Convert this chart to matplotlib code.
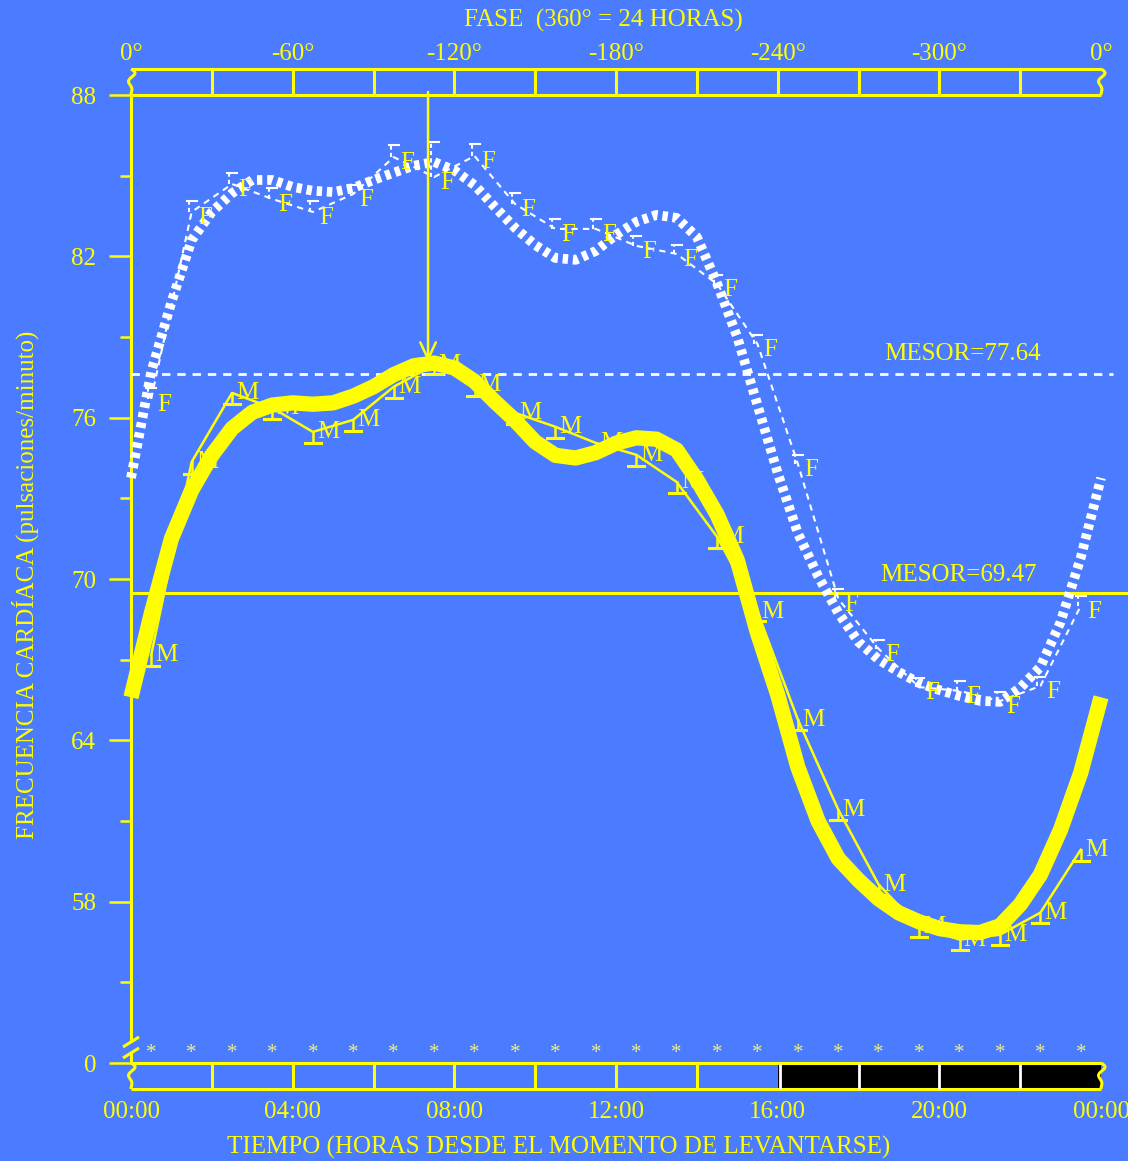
import matplotlib
matplotlib.use("Agg")
import matplotlib.pyplot as plt
from matplotlib import transforms
from matplotlib.patches import Rectangle
import numpy as np

plt.rcParams['font.family'] = ['Liberation Serif', 'DejaVu Serif']

BG = '#4b7bff'
YELLOW = '#ffff00'
PALE = '#eeee88'
WHITE = '#ffffff'

# ---- data -------------------------------------------------------------
# hourly sampling times (hours since waking)
hours = [0.5, 1.5, 2.5, 3.5, 4.5, 5.5, 6.5, 7.5, 8.5, 9.5, 10.5, 11.5,
         12.5, 13.5, 14.5, 15.5, 16.5, 17.5, 18.5, 19.5, 20.5, 21.5, 22.5, 23.5]

# group M: hourly means and (lower) error
m_rate = [67.18, 74.35, 76.92, 76.36, 75.47, 75.92, 77.15, 77.96, 77.22, 76.18,
          75.66, 75.06, 74.62, 73.61, 71.57, 68.78, 64.77, 61.42, 58.63, 57.07,
          56.59, 56.77, 57.59, 59.93]
m_err = [0.4, 0.45, 0.4, 0.4, 0.4, 0.4, 0.4, 0.35, 0.4, 0.4, 0.4, 0.4,
         0.4, 0.4, 0.4, 0.35, 0.4, 0.4, 0.4, 0.4, 0.4, 0.4, 0.4, 0.4]

# group F: hourly means and (upper) error
f_rate = [76.7, 83.65, 84.69, 84.13, 83.65, 84.32, 85.69, 84.95, 85.73, 83.95,
          83.02, 83.02, 82.39, 82.09, 80.97, 78.74, 74.28, 69.26, 67.4, 65.98,
          65.84, 65.46, 66.02, 69.0]
f_err = [0.4, 0.4, 0.4, 0.4, 0.4, 0.35, 0.45, 1.3, 0.45, 0.4, 0.35, 0.35,
         0.35, 0.35, 0.35, 0.35, 0.35, 0.35, 0.35, 0.35, 0.35, 0.35, 0.35, 0.35]

# fitted rhythms, sampled every half hour
fit_hours = [0.0, 0.5, 1.0, 1.5, 2.0, 2.5, 3.0, 3.5, 4.0, 4.5, 5.0, 5.5, 6.0,
             6.5, 7.0, 7.5, 8.0, 8.5, 9.0, 9.5, 10.0, 10.5, 11.0, 11.5, 12.0,
             12.5, 13.0, 13.5, 14.0, 14.5, 15.0, 15.5, 16.0, 16.5, 17.0, 17.5,
             18.0, 18.5, 19.0, 19.5, 20.0, 20.5, 21.0, 21.5, 22.0, 22.5, 23.0,
             23.5, 24.0]
m_fit = [65.6, 68.7, 71.5, 73.3, 74.6, 75.6, 76.2, 76.47, 76.55, 76.5, 76.55,
         76.8, 77.15, 77.6, 77.93, 78.03, 77.85, 77.35, 76.6, 75.9, 75.1, 74.6,
         74.5, 74.7, 75.05, 75.25, 75.2, 74.8, 73.7, 72.4, 70.7, 68.0, 65.7,
         63.0, 61.0, 59.6, 58.8, 58.1, 57.58, 57.25, 57.0, 56.88, 56.85, 57.1,
         57.89, 59.0, 60.68, 62.8, 65.6]
f_fit = [73.76, 77.7, 80.3, 82.6, 83.65, 84.35, 84.84, 84.84, 84.58, 84.44,
         84.39, 84.54, 84.84, 85.11, 85.37, 85.51, 85.2, 84.65, 83.84, 83.06,
         82.42, 81.94, 81.87, 82.2, 82.8, 83.28, 83.54, 83.43, 82.72, 81.0,
         79.0, 76.47, 73.94, 71.7, 70.11, 68.74, 67.66, 67.0, 66.54, 66.13,
         65.87, 65.65, 65.47, 65.43, 65.95, 66.73, 68.4, 70.8, 73.76]

mesor_m = 69.47
mesor_f = 77.64
acrophase_h = 7.35

y_ticks = [52, 58, 64, 70, 76, 82, 88]
y_tick_labels = ['0', '58', '64', '70', '76', '82', '88']
y_minor = [55, 61, 67, 73, 79, 85]
x_label_pos = [0, 4, 8, 12, 16, 20, 24]
time_labels = ['00:00', '04:00', '08:00', '12:00', '16:00', '20:00', '00:00']
phase_labels = ['0°', '-60°', '-120°', '-180°', '-240°', '-300°', '0°']
strip_marks = [2, 4, 6, 8, 10, 12, 14]
night_marks = [18, 20, 22]
night_start, night_end = 16, 24

# ---- figure -----------------------------------------------------------
W, H = 1128, 1161
fig = plt.figure(figsize=(W / 100, H / 100), dpi=100, facecolor=BG)
ax = fig.add_axes([131 / W, (H - 1063) / H, 970 / W, 968 / H])
ax.set_facecolor(BG)
ax.set_xlim(0, 24)
ax.set_ylim(52, 88)
for s in ax.spines.values():
    s.set_visible(False)

PX = 24 / 970.0      # hours per pixel
PY = 36 / 968.0      # units per pixel
FS = 18

ax.set_xticks([])
ax.set_yticks(y_ticks)
ax.set_yticklabels(y_tick_labels, fontsize=FS, color=YELLOW)
ax.set_yticks(y_minor, minor=True)
ax.tick_params(axis='y', which='major', length=16, width=1.8, color=YELLOW, pad=9)
ax.tick_params(axis='y', which='minor', length=8, width=1.8, color=YELLOW)

LW_AX = 2.2
kw = dict(color=YELLOW, lw=LW_AX, clip_on=False, solid_capstyle='butt')

# left axis with break
ax.plot([0, 0], [88, 52 + 21 * PY], **kw)
ax.plot([0, 0], [52 + 10 * PY, 52], **kw)
for yc in (52 + 21 * PY, 52 + 10 * PY):
    ax.plot([-8 * PX, 8 * PX], [yc - 5 * PY, yc + 5 * PY], **kw)


def squiggle(x0, ytop, ybot):
    t = np.linspace(0, 1, 30)
    xs = x0 + 3.0 * PX * np.sin(t * 3 * np.pi) * (1 - t) * 1.6
    ys = ytop + (ybot - ytop) * t
    ax.plot(xs, ys, **kw)


# top phase strip
top0, top1 = 88, 88 + 26 * PY
ax.plot([0, 24], [top1, top1], **kw)
ax.plot([0, 24], [top0, top0], **kw)
for xm in strip_marks + [16, 18, 20, 22]:
    ax.plot([xm, xm], [top0, top1], **kw)
squiggle(0, top1, top0)
squiggle(24, top1, top0)

# bottom time strip with dark period
bot0, bot1 = 52, 52 - 26 * PY
ax.add_patch(Rectangle((night_start, bot1), night_end - night_start, bot0 - bot1,
                       facecolor='black', edgecolor='none', clip_on=False, zorder=2))
ax.plot([0, 24], [bot0, bot0], zorder=3, **kw)
ax.plot([0, 24], [bot1, bot1], zorder=3, **kw)
for xm in strip_marks:
    ax.plot([xm, xm], [bot0, bot1], zorder=3, **kw)
ax.plot([night_start + 2 * PX] * 2, [bot0 - 2 * PY, bot1 + 2 * PY],
        color=WHITE, lw=2, clip_on=False, zorder=3)
for xm in night_marks:
    ax.plot([xm, xm], [bot0 - 2 * PY, bot1 + 2 * PY], color=WHITE, lw=2,
            clip_on=False, zorder=3)
squiggle(0, bot0, bot1)
squiggle(24, bot0, bot1)

# sampling markers
for h in hours:
    ax.text(h, 52 + 10 * PY, '*', color=PALE, fontsize=15, ha='center',
            va='center', clip_on=False)

# MESOR lines
ax.plot([0, 24 + 26 * PX], [mesor_m, mesor_m], color=YELLOW, lw=2.2,
        clip_on=False, zorder=2)
ax.plot([0, 24 + 12 * PX], [mesor_f, mesor_f], color=WHITE, lw=2,
        ls=(0, (3, 2.5)), clip_on=False, zorder=2)
ax.text(18.63, mesor_f + 19.5 * PY, f'MESOR={mesor_f:.2f}', color=YELLOW,
        fontsize=FS, ha='left', va='center')
ax.text(18.53, mesor_m + 18.5 * PY, f'MESOR={mesor_m:.2f}', color=YELLOW,
        fontsize=FS, ha='left', va='center')

# fitted curves
ax.plot(fit_hours, f_fit, color=WHITE, lw=7, ls=(0, (0.55, 0.5)),
        dash_capstyle='butt', zorder=3, clip_on=False)
ax.plot(fit_hours, m_fit, color=YELLOW, lw=11, solid_capstyle='butt',
        solid_joinstyle='round', zorder=6, clip_on=False)

# group F observations
ax.plot(hours, f_rate, color=WHITE, lw=1.5, ls=(0, (3, 2.5)), zorder=4)
for h, v, e in zip(hours, f_rate, f_err):
    ax.plot([h - 3 * PX, h - 3 * PX], [v, v + e], color=WHITE, lw=1.5,
            ls=(0, (2, 1.5)), zorder=4)
    ax.plot([h - 5 * PX, h + 5 * PX], [v + e, v + e], color=WHITE, lw=1.5,
            zorder=4)
    ax.annotate('F', (h, v), xytext=(4.5, -4.5), textcoords='offset points',
                ha='left', va='center', fontsize=FS, color=YELLOW, zorder=5)

# group M observations
ax.plot(hours, m_rate, color=YELLOW, lw=1.8, zorder=7)
for h, v, e in zip(hours, m_rate, m_err):
    ax.plot([h, h], [v - e, v], color=YELLOW, lw=1.8, zorder=7)
    ax.plot([h - 8 * PX, h + 8 * PX], [v - e, v - e], color=YELLOW, lw=2.2,
            zorder=7)
    ax.annotate('M', (h, v), xytext=(3, 0), textcoords='offset points',
                ha='left', va='center', fontsize=FS, color=YELLOW, zorder=7)

# acrophase arrow
ax.annotate('', xy=(acrophase_h, 78.07), xytext=(acrophase_h, 88 + 3 * PY),
            arrowprops=dict(arrowstyle='->,head_length=0.6,head_width=0.28',
                            mutation_scale=20, color=YELLOW, lw=1.8,
                            shrinkA=0, shrinkB=0),
            annotation_clip=False, zorder=8)

# axis labels
bt = transforms.blended_transform_factory(ax.transData, fig.transFigure)
for xp, tl, pl in zip(x_label_pos, time_labels, phase_labels):
    fig.text(xp, (H - 1112.5) / H, tl, transform=bt, ha='center', va='center',
             fontsize=FS, color=YELLOW)
    fig.text(xp, (H - 54) / H, pl, transform=bt, ha='center', va='center',
             fontsize=FS, color=YELLOW)

fig.text(603 / W, (H - 20) / H, 'FASE  (360° = 24 HORAS)', ha='center',
         va='center', fontsize=FS, color=YELLOW)
fig.text(559 / W, (H - 1147.5) / H, 'TIEMPO (HORAS DESDE EL MOMENTO DE LEVANTARSE)',
         ha='center', va='center', fontsize=FS, color=YELLOW)
fig.text(25 / W, (H - 585) / H, 'FRECUENCIA CARDÍACA (pulsaciones/minuto)',
         ha='center', va='center', rotation=90, fontsize=FS, color=YELLOW)

fig.savefig('out.png', dpi=100, facecolor=BG)
